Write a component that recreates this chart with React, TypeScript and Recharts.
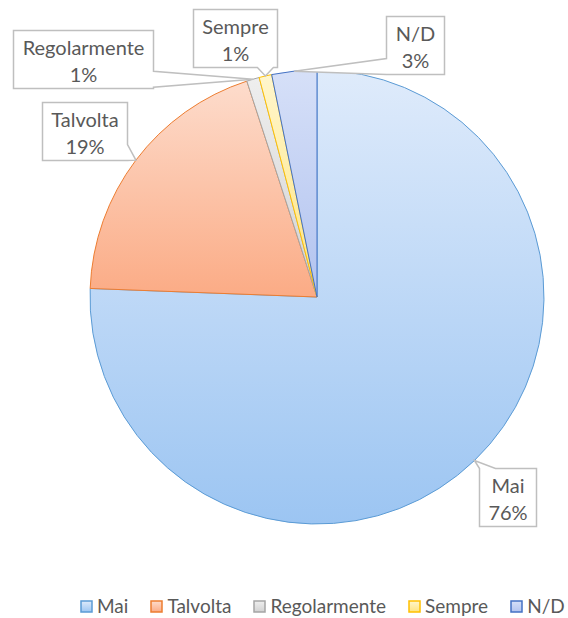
import { PieChart, Pie, Cell, Legend } from "recharts";

const categories = ["Mai", "Talvolta", "Regolarmente", "Sempre", "N/D"];
const shares = [75.6, 19.4, 0.9, 0.9, 3.2];

const strokeColors = ["#5b9bd5", "#ed7d31", "#a5a5a5", "#ffc000", "#4472c4"];
const gradTop = ["#dfebfb", "#fddccc", "#eeeeee", "#fff6cc", "#d6e0f8"];
const gradBottom = ["#9cc5f2", "#fbab85", "#d2d2d2", "#ffe47f", "#b2c3ef"];

// where Excel's callouts ended up, relative to the slice tip
const labelOffsets = [
  [33, 36],
  [-51, -29],
  [-170, -20],
  [-30, -38],
  [121, -26],
];

const FONT = "Lato, Carlito, Calibri, sans-serif";
const FS = 20;
const RAD = Math.PI / 180;

const data = categories.map((name, i) => ({ name, value: shares[i] }));

let ctx: CanvasRenderingContext2D | null = null;
function textWidth(s: string) {
  if (!ctx) ctx = document.createElement("canvas").getContext("2d");
  if (!ctx) return s.length * 10;
  ctx.font = `${FS}px ${FONT}`;
  return ctx.measureText(s).width;
}

function calloutPath(x: number, y: number, w: number, h: number, tx: number, ty: number) {
  const r = x + w;
  const b = y + h;
  const half = 8;
  const gaps = [x - tx, tx - r, y - ty, ty - b]; // left, right, top, bottom
  const side = gaps.indexOf(Math.max(...gaps));
  const clampY = Math.min(Math.max(ty, y + half), b - half);
  const clampX = Math.min(Math.max(tx, x + half), r - half);
  let d = `M${x},${y}`;
  if (side === 2) d += ` L${clampX - half},${y} L${tx},${ty} L${clampX + half},${y}`;
  d += ` L${r},${y}`;
  if (side === 1) d += ` L${r},${clampY - half} L${tx},${ty} L${r},${clampY + half}`;
  d += ` L${r},${b}`;
  if (side === 3) d += ` L${clampX + half},${b} L${tx},${ty} L${clampX - half},${b}`;
  d += ` L${x},${b}`;
  if (side === 0) d += ` L${x},${clampY + half} L${tx},${ty} L${x},${clampY - half}`;
  return d + " Z";
}

const renderCallout = (props: any) => {
  const { cx, cy, midAngle, outerRadius, index, percent } = props;
  const a = -midAngle * RAD;
  const tx = cx + outerRadius * Math.cos(a);
  const ty = cy + outerRadius * Math.sin(a);
  const name = categories[index];
  const pct = Math.round(percent * 100) + "%";
  const w = Math.round(Math.max(textWidth(name), textWidth(pct)) + 18);
  const h = 58;
  const bx = Math.round(tx + labelOffsets[index][0] - w / 2) + 0.5;
  const by = Math.round(ty + labelOffsets[index][1] - h / 2) + 0.5;
  return (
    <g key={`callout-${index}`}>
      <path d={calloutPath(bx, by, w, h, tx, ty)} fill="#ffffff" stroke="#bfbfbf" strokeWidth={1.5} />
      <text x={bx + w / 2} y={by + h / 2 - 13} textAnchor="middle" dominantBaseline="central"
        fontFamily={FONT} fontSize={FS} fill="#595959">{name}</text>
      <text x={bx + w / 2} y={by + h / 2 + 14} textAnchor="middle" dominantBaseline="central"
        fontFamily={FONT} fontSize={FS} fill="#595959">{pct}</text>
    </g>
  );
};

function LegendRow() {
  return (
    <div style={{ display: "flex", alignItems: "center", gap: 22, fontFamily: FONT, fontSize: 19, color: "#595959", lineHeight: "24px", whiteSpace: "nowrap" }}>
      {categories.map((c, i) => (
        <div key={c} style={{ display: "flex", alignItems: "center" }}>
          <svg width={13} height={13} style={{ marginRight: 4 }}>
            <defs>
              <linearGradient id={`lg${i}`} x1="0" y1="0" x2="0" y2="1">
                <stop offset="0%" stopColor={gradTop[i]} />
                <stop offset="100%" stopColor={gradBottom[i]} />
              </linearGradient>
            </defs>
            <rect x={1} y={1} width={11} height={11} fill={`url(#lg${i})`} stroke={strokeColors[i]} strokeWidth={1.5} />
          </svg>
          <span>{c}</span>
        </div>
      ))}
    </div>
  );
}

export default function App() {
  return (
    <div style={{ position: "absolute", left: 0, top: 0, width: 568, height: 618, background: "#fff" }}>
      <PieChart width={568} height={618} margin={{ top: 0, right: 0, bottom: 0, left: 0 }}>
        <defs>
          {categories.map((c, i) => (
            <linearGradient key={c} id={`pg${i}`} x1="0" y1="0" x2="0" y2="1">
              <stop offset="0%" stopColor={gradTop[i]} />
              <stop offset="100%" stopColor={gradBottom[i]} />
            </linearGradient>
          ))}
        </defs>
        <Pie
          data={data}
          dataKey="value"
          nameKey="name"
          cx={317}
          cy={297}
          outerRadius={227}
          startAngle={90}
          endAngle={-270}
          label={renderCallout}
          labelLine={false}
          isAnimationActive={false}
        >
          {data.map((d, i) => (
            <Cell key={d.name} fill={`url(#pg${i})`} stroke={strokeColors[i]} strokeWidth={1} />
          ))}
        </Pie>
        <Legend
          content={() => <LegendRow />}
          wrapperStyle={{ position: "absolute", top: 594, left: 80, width: "auto" }}
        />
      </PieChart>
    </div>
  );
}
